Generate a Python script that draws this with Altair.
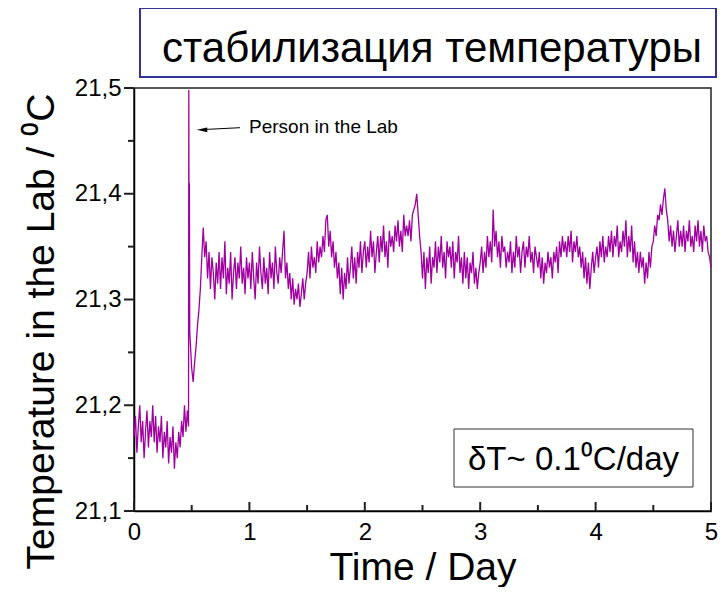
import altair as alt
import pandas as pd

# time grid (days, step 0.0125) and temperature
days = [round(0.0125 * i, 4) for i in range(401)]
temps = [
    21.17, 21.19, 21.155, 21.18, 21.2, 21.165, 21.185, 21.15, 21.175, 21.195,
    21.16, 21.185, 21.17, 21.2, 21.165, 21.19, 21.155, 21.18, 21.165, 21.19,
    21.15, 21.175, 21.16, 21.185, 21.145, 21.17, 21.155, 21.18, 21.14, 21.165,
    21.15, 21.175, 21.16, 21.185, 21.17, 21.2, 21.175, 21.195, 21.498, 21.26,
    21.235, 21.222, 21.24, 21.255, 21.275, 21.29, 21.31, 21.34, 21.368, 21.34,
    21.355, 21.32, 21.345, 21.31, 21.34, 21.325, 21.3, 21.335, 21.315, 21.345,
    21.31, 21.34, 21.32, 21.355, 21.305, 21.33, 21.315, 21.345, 21.3, 21.325,
    21.34, 21.31, 21.335, 21.32, 21.35, 21.315, 21.33, 21.305, 21.34, 21.32,
    21.335, 21.31, 21.345, 21.32, 21.3, 21.335, 21.315, 21.35, 21.325, 21.31,
    21.34, 21.315, 21.33, 21.305, 21.345, 21.32, 21.335, 21.31, 21.35, 21.325,
    21.315, 21.34, 21.325, 21.345, 21.365, 21.32, 21.335, 21.31, 21.325, 21.3,
    21.32, 21.295, 21.31, 21.3, 21.315, 21.293, 21.305, 21.32, 21.3, 21.315,
    21.325, 21.345, 21.32, 21.35, 21.33, 21.34, 21.325, 21.355, 21.335, 21.35,
    21.34, 21.36, 21.345, 21.375, 21.38, 21.35, 21.365, 21.34, 21.355, 21.33,
    21.345, 21.32, 21.335, 21.305, 21.33, 21.3, 21.325, 21.31, 21.34, 21.315,
    21.33, 21.35, 21.32, 21.34, 21.315, 21.345, 21.33, 21.355, 21.325, 21.345,
    21.355, 21.33, 21.35, 21.335, 21.365, 21.34, 21.355, 21.325, 21.345, 21.36,
    21.335, 21.36, 21.345, 21.37, 21.34, 21.355, 21.33, 21.365, 21.35, 21.36,
    21.345, 21.37, 21.355, 21.375, 21.35, 21.365, 21.345, 21.38, 21.36, 21.37,
    21.36, 21.375, 21.355, 21.38, 21.385, 21.39, 21.40, 21.38, 21.36, 21.345,
    21.32, 21.345, 21.31, 21.34, 21.325, 21.35, 21.315, 21.34, 21.33, 21.355,
    21.325, 21.35, 21.335, 21.36, 21.33, 21.345, 21.32, 21.355, 21.34, 21.35,
    21.33, 21.355, 21.32, 21.345, 21.335, 21.36, 21.325, 21.34, 21.315, 21.345,
    21.32, 21.34, 21.31, 21.335, 21.325, 21.345, 21.315, 21.33, 21.31, 21.325,
    21.335, 21.35, 21.325, 21.345, 21.33, 21.36, 21.34, 21.355, 21.335, 21.385,
    21.35, 21.365, 21.34, 21.355, 21.33, 21.36, 21.345, 21.35, 21.33, 21.345,
    21.335, 21.355, 21.325, 21.345, 21.33, 21.36, 21.34, 21.35, 21.325, 21.345,
    21.355, 21.33, 21.35, 21.34, 21.36, 21.335, 21.345, 21.325, 21.35, 21.34,
    21.33, 21.345, 21.32, 21.34, 21.315, 21.335, 21.325, 21.345, 21.33, 21.34,
    21.32, 21.345, 21.335, 21.35, 21.325, 21.355, 21.34, 21.36, 21.345, 21.355,
    21.34, 21.36, 21.345, 21.365, 21.335, 21.355, 21.345, 21.36, 21.34, 21.35,
    21.33, 21.345, 21.32, 21.34, 21.315, 21.335, 21.31, 21.33, 21.345, 21.325,
    21.34, 21.35, 21.33, 21.355, 21.34, 21.36, 21.335, 21.35, 21.34, 21.36,
    21.345, 21.365, 21.34, 21.36, 21.35, 21.37, 21.34, 21.355, 21.345, 21.365,
    21.35, 21.375, 21.34, 21.36, 21.345, 21.37, 21.335, 21.355, 21.33, 21.345,
    21.325, 21.345, 21.33, 21.34, 21.315, 21.335, 21.32, 21.345, 21.33, 21.35,
    21.355, 21.37, 21.36, 21.38, 21.375, 21.39, 21.38, 21.395, 21.405, 21.385,
    21.375, 21.355, 21.37, 21.35, 21.365, 21.345, 21.36, 21.375, 21.35, 21.365,
    21.35, 21.37, 21.345, 21.365, 21.355, 21.375, 21.35, 21.36, 21.345, 21.37,
    21.355, 21.375, 21.35, 21.365, 21.345, 21.37, 21.355, 21.36, 21.345, 21.34,
    21.33,
]
# extra points around the "person in the lab" spike
spike_days = [0.4725, 0.4775, 0.48, 0.483]
spike_temps = [21.18, 21.31, 21.41, 21.27]

x_major = [0, 1, 2, 3, 4, 5]
x_minor = [0.5, 1.5, 2.5, 3.5, 4.5]
y_major = [21.1, 21.2, 21.3, 21.4, 21.5]
y_minor = [21.15, 21.25, 21.35, 21.45]

title_text = "стабилизация температуры"
x_title = "Time / Day"
y_title = "Temperature in the Lab / \u2070C"
note_text = "Person in the Lab"
delta_text = "\u03b4T~ 0.1\u2070C/day"

df = pd.DataFrame({"day": days + spike_days, "temp": temps + spike_temps})
one = pd.DataFrame({"k": [0]})

W, H = 577, 423
FONT = "Liberation Sans"
LINE = "#A000A0"
TICK_W = 2
TICK_C = "#1f1f1f"

xscale = alt.Scale(domain=[0, 5], nice=False, zero=False)
yscale = alt.Scale(domain=[21.1, 21.5], nice=False, zero=False)

yaxis = alt.Axis(
    values=y_major,
    labelExpr="replace(format(datum.value, '.1f'), '.', ',')",
    ticks=False,
    domainColor="black", domainWidth=1.5, grid=False,
    labelFont=FONT, labelFontSize=24, labelColor="black", labelPadding=13,
    labelFlush=False, labelOverlap=False, orient="left",
    title=y_title, titleFont=FONT, titleFontSize=39, titleFontWeight="normal",
    titleColor="black", titleAngle=270, titleAlign="center", titleBaseline="alphabetic",
    titleX=-81, titleY=243,
)
xaxis = alt.Axis(
    values=x_major, format="d", ticks=False,
    domainColor="black", domainWidth=1.5, grid=False,
    labelFont=FONT, labelFontSize=24, labelColor="black", labelPadding=9,
    labelFlush=False, labelOverlap=False,
    title=x_title, titleFont=FONT, titleFontSize=39, titleFontWeight="normal",
    titleColor="black", titleAlign="center", titleBaseline="alphabetic",
    titleX=W / 2, titleY=68, orient="bottom",
)

line = alt.Chart(df).mark_line(color=LINE, strokeWidth=1.3).encode(
    x=alt.X("day:Q", scale=xscale, axis=xaxis),
    y=alt.Y("temp:Q", scale=yscale, axis=yaxis),
)

# tick marks placed through the scales (x ticks point inward, y ticks outward)
xmaj = alt.Chart(pd.DataFrame({"day": x_major})).mark_rule(color=TICK_C, strokeWidth=TICK_W).encode(
    x=alt.X("day:Q", scale=xscale, axis=None), y=alt.value(H), y2=alt.value(H - 9)
)
xmin = alt.Chart(pd.DataFrame({"day": x_minor})).mark_rule(color=TICK_C, strokeWidth=TICK_W).encode(
    x=alt.X("day:Q", scale=xscale, axis=None), y=alt.value(H), y2=alt.value(H - 6)
)
ymaj = alt.Chart(pd.DataFrame({"temp": y_major})).mark_rule(color=TICK_C, strokeWidth=TICK_W).encode(
    y=alt.Y("temp:Q", scale=yscale, axis=None), x=alt.value(0), x2=alt.value(-10)
)
ymin = alt.Chart(pd.DataFrame({"temp": y_minor})).mark_rule(color=TICK_C, strokeWidth=TICK_W).encode(
    y=alt.Y("temp:Q", scale=yscale, axis=None), x=alt.value(0), x2=alt.value(-6)
)

title_box = alt.Chart(one).mark_rect(fill="white", stroke="#33339A", strokeWidth=2).encode(
    x=alt.value(6), x2=alt.value(582), y=alt.value(-80), y2=alt.value(-11)
)
title_mark = alt.Chart(one).mark_text(
    font=FONT, fontSize=42, color="black", align="center", baseline="alphabetic"
).encode(x=alt.value(298), y=alt.value(-26), text=alt.value(title_text))

note = alt.Chart(one).mark_text(
    font=FONT, fontSize=19, color="black", align="left", baseline="alphabetic"
).encode(x=alt.value(115), y=alt.value(45), text=alt.value(note_text))
arrow_line = alt.Chart(one).mark_rule(color="black", strokeWidth=1).encode(
    x=alt.value(106), x2=alt.value(70), y=alt.value(39.7), y2=alt.value(41.5)
)
arrow_head = alt.Chart(one).mark_point(
    shape="M-1,0L1,-0.45L1,0.45Z", filled=True, color="black", opacity=1, size=110
).encode(x=alt.value(68), y=alt.value(41.8))

delta_box = alt.Chart(one).mark_rect(fill="white", stroke="#333333", strokeWidth=1).encode(
    x=alt.value(320), x2=alt.value(559), y=alt.value(341), y2=alt.value(399)
)
delta_mark = alt.Chart(one).mark_text(
    font=FONT, fontSize=33, color="black", align="center", baseline="alphabetic"
).encode(x=alt.value(439.5), y=alt.value(382), text=alt.value(delta_text))

chart = alt.layer(
    line, xmaj, xmin, ymaj, ymin, title_box, title_mark, note, arrow_line, arrow_head,
    delta_box, delta_mark
).resolve_axis(x="independent", y="independent").properties(
    width=W, height=H,
    autosize=alt.AutoSizeParams(type="none"),
    padding={"left": 126, "top": 80, "right": 7, "bottom": 76},
).configure_view(stroke="#222222", strokeWidth=1.5)

chart.save("out.html", embed_options={"renderer": "svg", "actions": False})
